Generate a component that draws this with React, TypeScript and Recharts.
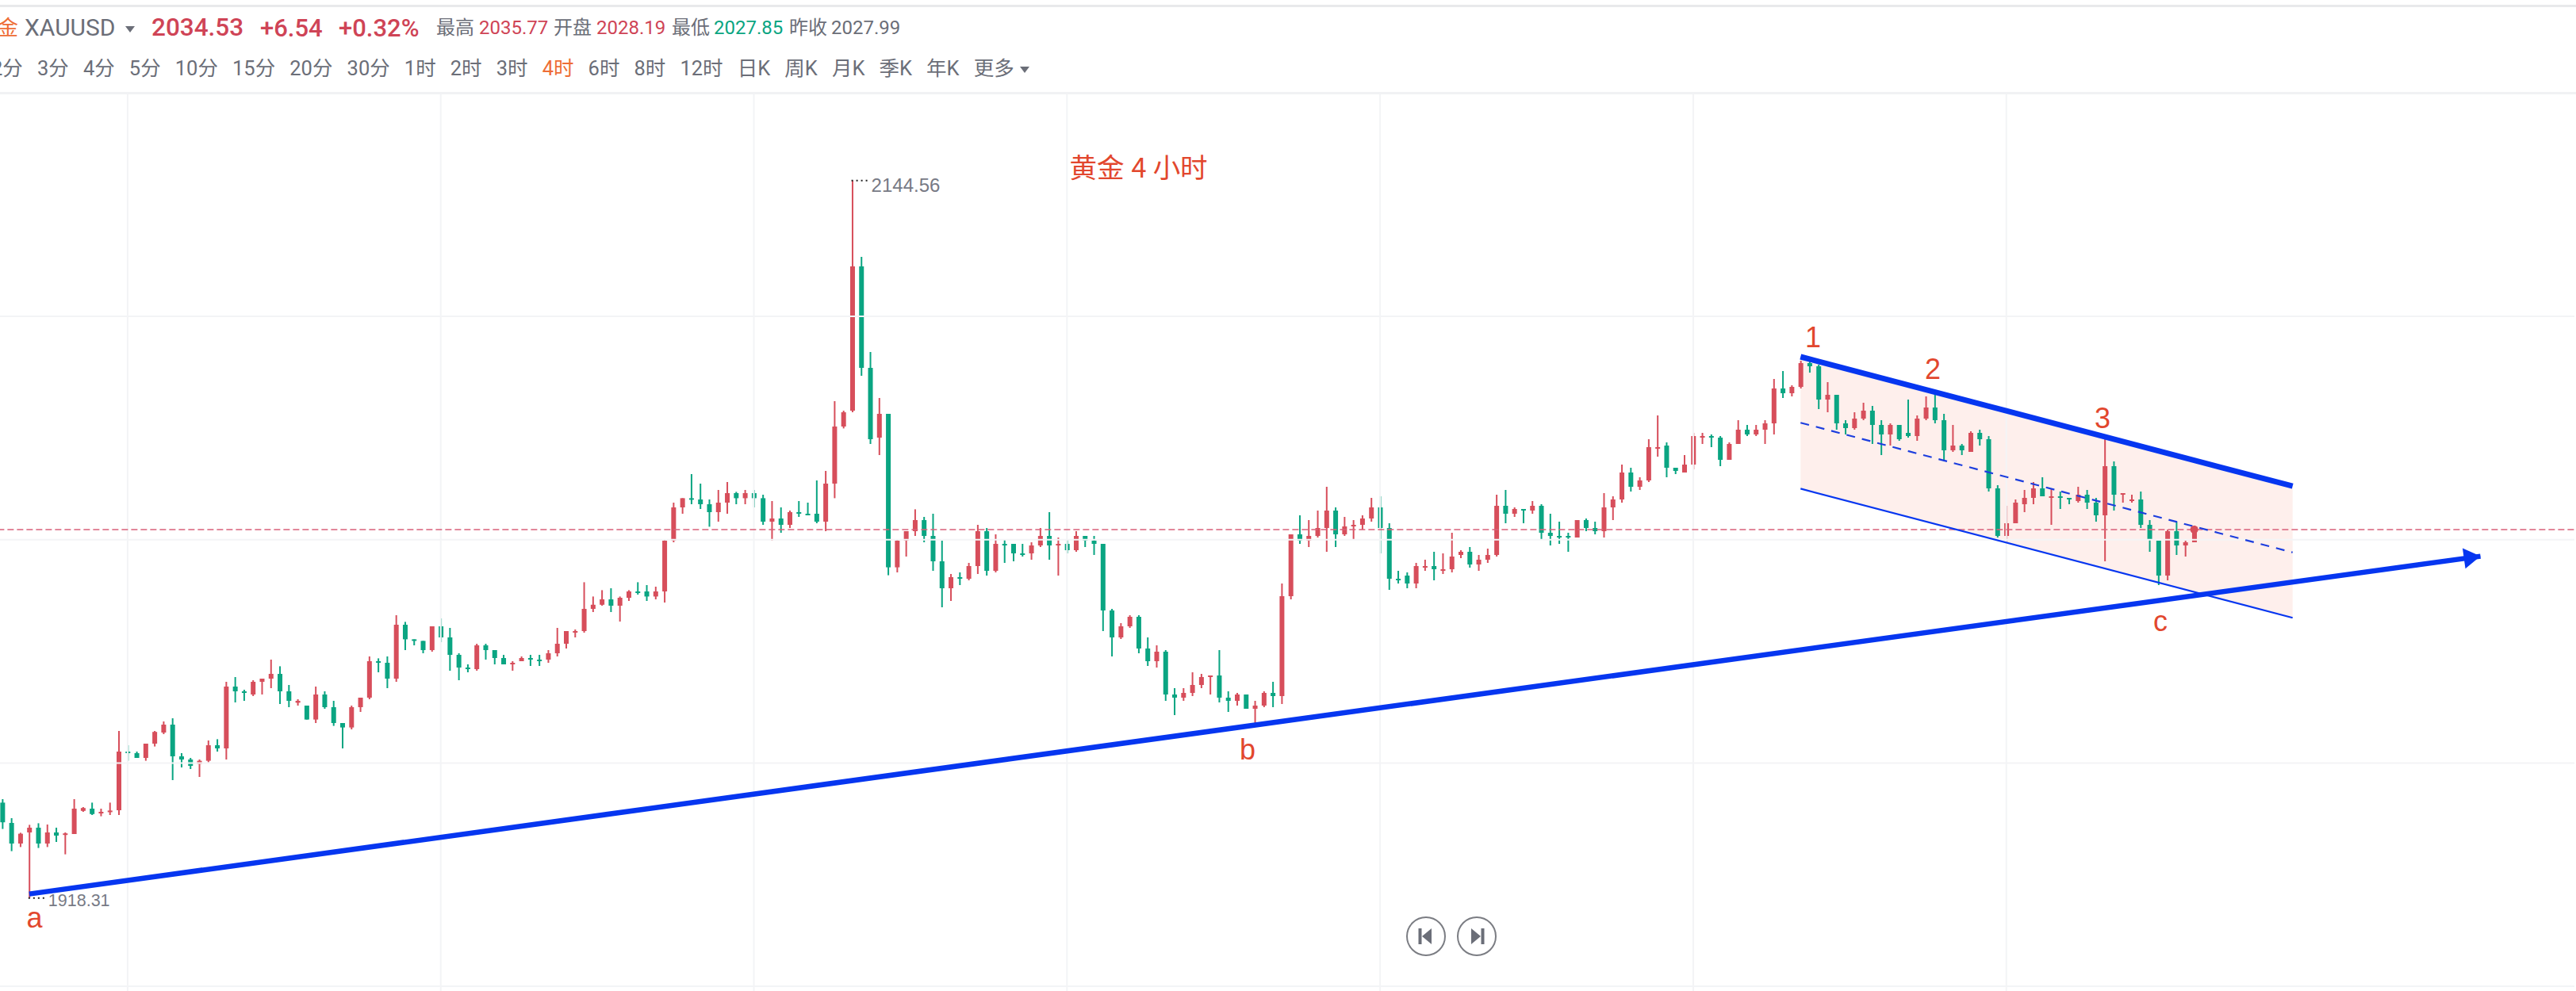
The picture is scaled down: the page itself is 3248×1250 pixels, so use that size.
import React from "react";
import { ComposedChart, Bar, Line, Area, XAxis, YAxis, ReferenceLine, ReferenceDot } from "recharts";

const opens = [
1948.4,1942.0,1935.5,1939.0,1940.5,1935.5,1939.0,1938.3,1938.5,1945.8,
1946.5,1945.1,1945.5,1946.0,1964.5,1964.0,1962.5,1967.0,1970.5,1973.0,
1963.0,1962.0,1960.6,1961.6,1966.5,1965.5,1985.0,1983.5,1982.5,1986.5,
1987.5,1989.0,1983.5,1979.9,1979.0,1974.6,1982.5,1978.5,1973.5,1972.1,
1978.5,1981.5,1993.0,1992.5,1987.5,2004.5,1999.9,1999.4,1996.5,2004.0,
2000.5,1995.0,1991.0,1990.5,1998.0,1996.5,1994.0,1992.0,1993.0,1994.0,
1993.5,1993.5,1995.5,1998.5,2002.0,2002.5,2009.5,2010.8,2012.5,2010.5,
2013.0,2015.0,2015.0,2013.4,2015.0,2031.0,2041.5,2044.4,2044.0,2042.5,
2040.0,2043.0,2046.0,2044.4,2046.0,2044.4,2037.0,2038.0,2036.0,2040.0,
2039.5,2039.5,2037.0,2049.0,2067.0,2072.0,2117.5,2085.5,2063.5,2071.0,
2022.6,2031.0,2034.0,2037.5,2032.5,2024.5,2016.0,2019.5,2019.0,2023.0,
2034.0,2021.5,2030.0,2030.0,2027.0,2027.0,2029.5,2032.5,2029.5,2030.0,
2028.0,2032.5,2031.0,2030.0,2009.0,2000.5,2004.0,2007.0,1997.0,1993.0,
1996.0,1982.5,1981.5,1983.0,1985.5,1988.0,1988.5,1981.5,1980.5,1982.5,
1978.0,1979.0,1983.0,1982.0,2013.5,2033.0,2031.0,2032.5,2035.0,2040.5,
2033.0,2035.5,2036.0,2038.0,2041.5,2035.0,2019.0,2020.0,2017.5,2022.5,
2023.0,2021.5,2022.0,2026.5,2027.5,2023.5,2025.0,2026.5,2042.0,2039.5,
2041.0,2040.5,2042.0,2033.5,2032.5,2032.5,2032.0,2037.5,2035.0,2034.0,
2041.5,2044.0,2052.5,2048.0,2050.0,2060.0,2061.0,2054.0,2052.5,2055.0,
2063.5,2064.0,2063.5,2056.5,2061.5,2066.0,2064.5,2066.0,2068.0,2079.0,
2077.5,2079.5,2087.0,2086.0,2075.5,2077.0,2068.0,2066.5,2069.5,2072.0,
2067.5,2064.5,2067.5,2065.0,2064.0,2069.5,2073.0,2069.0,2059.5,2061.0,
2059.0,2065.0,2063.0,2047.5,2032.5,2036.5,2042.5,2044.5,2047.5,2044.5,
2045.0,2044.5,2043.5,2045.5,2043.0,2039.0,2054.5,2045.5,2043.5,2044.0,
2036.0,2031.0,2020.0,2034.0,2029.5,2030.5,
];

const closes = [
1942.2,1935.5,1938.6,1940.5,1935.5,1939.0,1938.0,1938.7,1946.5,1946.7,
1944.8,1945.5,1945.9,1964.5,1964.0,1962.5,1967.0,1970.7,1973.0,1963.0,
1962.0,1960.0,1961.6,1966.5,1965.5,1985.0,1983.5,1983.0,1986.5,1987.5,
1989.0,1983.5,1980.5,1980.5,1974.6,1982.5,1978.5,1973.5,1972.1,1978.5,
1981.5,1993.0,1992.5,1987.5,2004.5,1999.9,1999.4,1996.5,2004.0,2000.5,
1995.0,1991.0,1990.5,1998.0,1996.5,1994.0,1992.0,1992.5,1994.0,1993.5,
1993.0,1995.5,1998.5,2002.5,2002.5,2009.5,2010.8,2012.5,2010.5,2013.0,
2015.0,2014.5,2013.4,2015.0,2031.0,2041.5,2044.4,2044.0,2042.5,2040.0,
2043.0,2046.0,2044.4,2046.0,2044.4,2037.0,2038.0,2036.0,2040.0,2039.5,
2039.0,2037.0,2049.0,2067.0,2071.5,2117.5,2085.5,2063.0,2071.0,2022.6,
2031.0,2034.0,2037.5,2032.5,2024.5,2016.0,2019.5,2019.0,2023.0,2034.0,
2021.5,2030.0,2029.5,2027.0,2026.5,2029.5,2032.5,2029.5,2030.0,2028.0,
2032.5,2031.0,2030.0,2009.0,2000.5,2004.0,2007.0,1997.0,1993.0,1996.0,
1982.5,1981.5,1983.0,1985.5,1988.0,1988.5,1981.5,1980.5,1982.5,1978.0,
1979.0,1983.0,1982.0,2013.5,2033.0,2031.0,2032.5,2035.0,2040.5,2033.0,
2035.5,2036.0,2038.0,2041.5,2035.0,2019.0,2018.5,2017.5,2023.0,2023.0,
2022.0,2022.0,2026.0,2027.5,2023.5,2025.0,2026.5,2042.0,2039.5,2041.0,
2040.5,2042.0,2033.5,2032.5,2032.0,2032.0,2037.5,2035.0,2034.0,2041.5,
2044.0,2052.5,2048.0,2050.0,2060.5,2060.5,2054.0,2053.0,2055.0,2064.0,
2064.0,2063.5,2056.5,2061.5,2066.0,2064.5,2066.0,2068.0,2079.0,2077.5,
2079.5,2087.0,2086.0,2075.5,2077.0,2068.0,2066.5,2069.5,2072.0,2067.5,
2064.5,2067.5,2063.0,2064.0,2069.5,2073.0,2069.0,2059.5,2061.0,2059.5,
2065.0,2063.0,2047.5,2032.5,2036.5,2043.0,2044.5,2047.5,2045.0,2045.0,
2044.5,2044.0,2045.5,2043.0,2039.0,2054.5,2045.5,2046.0,2044.0,2036.0,
2031.5,2020.0,2034.0,2029.5,2030.5,2034.53,
];

const highs = [
1949.5,1943.5,1938.9,1941.4,1941.9,1941.5,1940.5,1939.0,1949.5,1947.0,
1948.4,1946.5,1948.4,1971.0,1966.5,1964.5,1967.0,1971.0,1974.0,1975.0,
1964.0,1962.5,1962.0,1968.0,1968.4,1986.5,1988.0,1984.0,1987.0,1987.5,
1993.5,1991.4,1985.5,1981.0,1979.0,1985.0,1983.5,1980.5,1973.5,1979.0,
1981.5,1994.5,1993.9,1994.5,2007.5,2005.4,1999.9,1999.4,2004.0,2006.5,
2003.5,1995.5,1992.0,1998.5,1998.5,1996.5,1995.0,1993.0,1994.5,1995.0,
1995.0,1996.5,2003.5,2002.5,2003.0,2017.9,2013.4,2015.4,2016.0,2013.4,
2015.4,2017.9,2017.0,2016.5,2031.4,2043.0,2044.4,2052.0,2049.0,2044.0,
2047.0,2049.5,2046.4,2047.0,2047.0,2045.5,2043.5,2041.5,2040.5,2043.5,
2043.0,2050.0,2053.0,2075.0,2072.0,2144.56,2120.5,2090.5,2076.0,2071.0,
2031.3,2034.0,2040.9,2038.5,2039.5,2031.0,2020.5,2021.0,2024.0,2036.0,
2035.0,2033.0,2031.5,2030.0,2030.0,2030.5,2035.0,2040.0,2032.0,2031.5,
2034.0,2032.5,2032.5,2030.0,2009.5,2005.0,2007.5,2007.5,2000.5,1998.0,
1996.5,1984.5,1984.5,1989.5,1989.0,1988.5,1996.5,1983.5,1983.0,1982.5,
1980.5,1983.5,1986.5,2017.5,2033.0,2039.0,2037.5,2040.5,2048.0,2041.5,
2038.5,2037.5,2039.0,2044.5,2045.0,2036.5,2021.5,2021.0,2024.0,2025.0,
2027.5,2027.0,2033.5,2028.0,2029.0,2026.5,2028.5,2045.5,2047.0,2041.5,
2041.0,2043.5,2042.5,2039.5,2037.0,2033.5,2037.5,2038.0,2037.0,2046.0,
2045.0,2055.0,2054.0,2051.0,2063.0,2070.5,2062.0,2054.0,2058.0,2065.0,
2065.0,2064.5,2064.0,2062.0,2069.0,2067.5,2067.5,2069.0,2082.0,2084.5,
2080.0,2087.75,2087.5,2086.5,2081.0,2077.0,2069.0,2071.5,2074.5,2073.5,
2069.0,2068.0,2067.5,2075.5,2070.5,2076.5,2077.5,2071.0,2067.5,2061.5,
2065.5,2066.0,2064.0,2048.5,2042.0,2044.0,2047.0,2049.5,2051.0,2047.5,
2046.5,2044.5,2048.0,2047.0,2044.5,2063.0,2056.0,2046.0,2045.5,2046.5,
2037.5,2031.0,2034.5,2037.0,2031.0,2035.77,
];

const lows = [
1940.1,1933.1,1934.4,1918.31,1934.1,1934.4,1936.0,1932.1,1938.5,1945.5,
1944.5,1944.1,1944.5,1944.5,1961.6,1962.5,1961.6,1966.1,1970.0,1955.5,
1959.5,1959.0,1956.5,1961.1,1964.5,1962.0,1980.0,1980.5,1982.0,1982.5,
1984.5,1979.5,1978.5,1979.0,1974.6,1973.5,1978.0,1972.6,1965.5,1971.5,
1977.0,1981.0,1989.5,1984.5,1986.5,1996.5,1998.0,1995.5,1996.0,1999.0,
1990.0,1987.0,1989.5,1990.0,1993.5,1992.0,1992.0,1990.0,1993.0,1991.5,
1991.5,1992.5,1994.5,1997.0,2000.5,2002.0,2008.5,2010.5,2008.5,2005.5,
2012.0,2014.0,2012.0,2012.5,2011.5,2030.5,2039.5,2042.5,2041.0,2035.4,
2037.0,2039.5,2042.5,2042.5,2041.5,2036.0,2031.0,2033.5,2035.0,2038.5,
2039.0,2036.5,2034.0,2044.4,2066.4,2071.5,2083.0,2061.5,2058.0,2020.1,
2021.0,2026.0,2032.5,2030.5,2021.5,2010.0,2012.0,2017.0,2018.5,2020.5,
2020.0,2021.0,2024.0,2024.5,2026.0,2025.0,2029.0,2025.0,2020.0,2027.0,
2027.5,2029.0,2026.5,2002.5,1994.5,2000.0,2003.5,1995.5,1991.5,1991.0,
1980.5,1976.0,1980.5,1982.0,1984.5,1982.5,1980.0,1977.0,1979.0,1978.0,
1973.5,1978.5,1978.5,1979.5,2012.5,2030.0,2029.0,2032.0,2027.5,2029.0,
2032.5,2031.5,2034.5,2037.0,2027.0,2015.5,2017.5,2016.0,2016.0,2021.5,
2018.5,2020.5,2021.0,2025.5,2022.5,2021.5,2024.0,2026.0,2036.5,2038.5,
2036.5,2039.5,2031.5,2029.5,2030.0,2027.5,2032.0,2034.0,2033.0,2032.0,
2037.5,2043.0,2046.5,2047.0,2049.5,2057.5,2051.0,2052.0,2052.5,2053.5,
2061.5,2060.5,2054.5,2056.5,2061.5,2064.0,2064.0,2061.5,2064.5,2076.0,
2076.5,2079.0,2084.0,2072.5,2071.5,2066.0,2064.5,2066.0,2069.0,2061.5,
2058.0,2061.0,2062.5,2063.5,2062.5,2069.0,2068.0,2056.0,2059.0,2058.0,
2059.0,2061.0,2046.5,2032.0,2030.5,2036.5,2040.0,2042.5,2045.0,2036.0,
2041.0,2042.5,2043.0,2041.0,2037.0,2024.5,2040.5,2043.0,2043.0,2035.0,
2027.5,2017.0,2018.5,2026.5,2026.0,2030.5,
];

const totalSlots = [288];
const gridIndices = [14, 49, 84, 119, 154, 189, 224];
const gridPrices = [2101.75, 2031.3, 1960.9, 1890.5];
const lastPriceLine = [2034.53];

const channelIndex = [201, 256];
const upperEdge = [2089.0, 2048.2];
const middleEdge = [2068.2, 2027.3];
const lowerEdge = [2047.4, 2006.7];
const trendIndex = [3, 277];
const trendValues = [1919.6, 2026.1];

const waveLabels = ["1", "2", "3", "a", "b", "c"];
const waveIndex = [202, 216, 235, 3, 139, 241];
const wavePrice = [2095.25, 2085.25, 2069.75, 1912.25, 1965.25, 2005.75];
const waveNudge = [4.4, -2.5, -2.8, 6.8, 2, 2.5];

const extremeLabels = ["2144.56", "1918.31"];
const extremeIndex = [95, 3];
const extremePrice = [2144.56, 1918.31];

const quoteParts = ["XAUUSD", "2034.53", "+6.54", "+0.32%"];
const statNames = ["最高", "开盘", "最低", "昨收"];
const statValues = ["2035.77", "2028.19", "2027.85", "2027.99"];
const periods = ["2分","3分","4分","5分","10分","15分","20分","30分","1时","2时","3时","4时","6时","8时","12时","日K","周K","月K","季K","年K","更多"];

const RED = "#d74e5b";
const GREEN = "#0aa582";
const BLUE = "#0636f0";
const GRID = "#f3f4f6";
const LABEL_RED = "#e2472e";
const GRAY = "#6b6e78";

const rows = Array.from({ length: totalSlots[0] }, (_, i) => {
  const row: any = { i };
  if (i < opens.length) {
    row.open = opens[i];
    row.close = closes[i];
    row.high = highs[i];
    row.low = lows[i];
    row.range = [lows[i], highs[i]];
  }
  const c = channelIndex.indexOf(i);
  if (c >= 0) {
    row.upper = upperEdge[c];
    row.middle = middleEdge[c];
    row.lower = lowerEdge[c];
    row.band = [lowerEdge[c], upperEdge[c]];
  }
  const t = trendIndex.indexOf(i);
  if (t >= 0) row.trend = trendValues[t];
  return row;
});

function Candle(props: any) {
  const { x, y, width, height, payload } = props;
  if (!payload || payload.high == null || !isFinite(y) || !isFinite(height)) return null;
  const perUnit = height / (payload.high - payload.low);
  const top = y + (payload.high - Math.max(payload.open, payload.close)) * perUnit;
  const bottom = y + (payload.high - Math.min(payload.open, payload.close)) * perUnit;
  const fill = payload.close >= payload.open ? RED : GREEN;
  return (
    <g>
      <rect x={x + width / 2 - 1} y={y} width={2} height={height} fill={fill} />
      <rect x={x} y={top} width={width} height={Math.max(bottom - top, 2)} fill={fill} />
    </g>
  );
}

function ArrowDot(props: any) {
  const { cx, cy, index } = props;
  if (index !== trendIndex[1]) return <g key={index} />;
  return <polygon key={index} points="0,0 -21,-13 -21,13" fill={BLUE} transform={`translate(${cx} ${cy}) rotate(-7.9)`} />;
}

const sans = "Roboto, 'Noto Sans CJK SC', sans-serif";

function HeaderText({ left, size, color, weight, children }: any) {
  return (
    <span style={{ position: "absolute", left, top: 35, transform: "translateY(-50%)", fontSize: size, color, fontWeight: weight ?? 400, whiteSpace: "nowrap", lineHeight: 1 }}>
      {children}
    </span>
  );
}

function NavButton({ left, flip }: any) {
  return (
    <svg width={52} height={52} style={{ position: "absolute", left, top: 1155 }}>
      <circle cx={26} cy={26} r={24} fill="#fff" stroke="#7b7d83" strokeWidth={2} />
      <g transform={flip ? "translate(52 0) scale(-1 1)" : undefined} fill={GRAY}>
        <rect x={16.5} y={16} width={4} height={20} />
        <polygon points="21,26 33,16 33,36" />
      </g>
    </svg>
  );
}

export default function App() {
  return (
    <div style={{ position: "absolute", left: 0, top: 0, width: 3248, height: 1250, overflow: "hidden", background: "#fff", fontFamily: sans }}>
      <ComposedChart width={3248} height={1250} data={rows} margin={{ left: -2.64, right: 2, top: 0, bottom: 0 }}>
        <XAxis dataKey="i" type="category" hide interval={0} />
        <YAxis type="number" hide domain={[1889, 2201.5]} allowDataOverflow />
        {gridIndices.map((g) => (
          <ReferenceLine key={`gx${g}`} x={g} stroke={GRID} strokeWidth={2} />
        ))}
        {gridPrices.map((g) => (
          <ReferenceLine key={`gy${g}`} y={g} stroke={GRID} strokeWidth={2} />
        ))}
        <Area dataKey="band" type="linear" connectNulls stroke="none" fill="#f4502a" fillOpacity={0.09} dot={false} activeDot={false} isAnimationActive={false} />
        <ReferenceLine y={lastPriceLine[0]} stroke="#d9607a" strokeWidth={1.5} strokeDasharray="8 4" />
        <Bar dataKey="range" barSize={6} shape={Candle} isAnimationActive={false} />
        <Line dataKey="lower" type="linear" connectNulls stroke={BLUE} strokeWidth={2.2} dot={false} activeDot={false} isAnimationActive={false} />
        <Line dataKey="middle" type="linear" connectNulls stroke="#1c3ede" strokeWidth={2.2} strokeDasharray="11 9" dot={false} activeDot={false} isAnimationActive={false} />
        <Line dataKey="upper" type="linear" connectNulls stroke={BLUE} strokeWidth={7} dot={false} activeDot={false} isAnimationActive={false} />
        <Line dataKey="trend" type="linear" connectNulls stroke={BLUE} strokeWidth={6.5} dot={ArrowDot} activeDot={false} isAnimationActive={false} />
        <ReferenceDot x={opens.length - 1} y={closes[closes.length - 1]} r={5} fill={RED} stroke="none" />
        {waveLabels.map((label, k) => (
          <ReferenceDot
            key={label}
            x={waveIndex[k]}
            y={wavePrice[k]}
            shape={(p: any) => (
              <text x={p.cx + waveNudge[k]} y={p.cy} dy="0.36em" textAnchor="middle" fontSize={36} fontFamily="'Liberation Sans', sans-serif" fill={LABEL_RED}>
                {label}
              </text>
            )}
          />
        ))}
        <ReferenceDot
          x={127}
          y={2148.5}
          shape={(p: any) => (
            <text x={p.cx} y={p.cy} dy="0.36em" textAnchor="middle" fontSize={34.5} fontFamily="'Noto Sans CJK SC', sans-serif" fill={LABEL_RED}>
              黄金<tspan dx={9}>4</tspan><tspan dx={8}>小时</tspan>
            </text>
          )}
        />
        {extremeLabels.map((label, k) => (
          <ReferenceDot
            key={label}
            x={extremeIndex[k]}
            y={extremePrice[k]}
            shape={(p: any) => (
              <g>
                <line x1={p.cx - 1} x2={p.cx + 20} y1={p.cy} y2={p.cy} stroke="#222" strokeWidth={2} strokeDasharray="2 4" />
                <text x={p.cx + 24} y={p.cy + (k === 0 ? 6 : 2)} dy="0.36em" fontSize={k === 0 ? 24 : 21.5} fontFamily="'Liberation Sans', sans-serif" fill="#777a85">
                  {label}
                </text>
              </g>
            )}
          />
        ))}
      </ComposedChart>

      <div style={{ position: "absolute", left: 0, top: 0, width: 3248, height: 116, background: "#fff" }}>
        <div style={{ position: "absolute", left: 0, top: 6, width: 3248, height: 3, background: "#e8e9eb" }} />
        <HeaderText left={-3} size={26} color="#ee6d36">金</HeaderText>
        <HeaderText left={31} size={30} color={GRAY}>{quoteParts[0]}</HeaderText>
        <svg width={12} height={8} style={{ position: "absolute", left: 158, top: 33 }}><polygon points="0,0 12,0 6,8" fill={GRAY} /></svg>
        <HeaderText left={191} size={31.5} color="#cf4456" weight={500}>{quoteParts[1]}</HeaderText>
        <HeaderText left={328} size={31} color="#cf4456" weight={500}>{quoteParts[2]}</HeaderText>
        <HeaderText left={427} size={31} color="#cf4456" weight={500}>{quoteParts[3]}</HeaderText>
        <HeaderText left={550} size={24} color={GRAY}>{statNames[0]}</HeaderText>
        <HeaderText left={604} size={24} color="#cf4456">{statValues[0]}</HeaderText>
        <HeaderText left={698} size={24} color={GRAY}>{statNames[1]}</HeaderText>
        <HeaderText left={752} size={24} color="#cf4456">{statValues[1]}</HeaderText>
        <HeaderText left={847} size={24} color={GRAY}>{statNames[2]}</HeaderText>
        <HeaderText left={900} size={24} color="#0aa582">{statValues[2]}</HeaderText>
        <HeaderText left={995} size={24} color={GRAY}>{statNames[3]}</HeaderText>
        <HeaderText left={1048} size={24} color={GRAY}>{statValues[3]}</HeaderText>
        <div style={{ position: "absolute", left: -11, top: 87, transform: "translateY(-50%)", display: "flex", gap: 18.1, fontSize: 25.5, lineHeight: 1, whiteSpace: "nowrap" }}>
          {periods.map((p) => (
            <span key={p} style={{ color: p === "4时" ? "#ee6d36" : GRAY }}>{p}</span>
          ))}
        </div>
        <svg width={12} height={8} style={{ position: "absolute", left: 1286, top: 84 }}><polygon points="0,0 12,0 6,8" fill={GRAY} /></svg>
      </div>
      <div style={{ position: "absolute", left: 0, top: 116, width: 3248, height: 3, background: "#f1f2f4" }} />
      <NavButton left={1772} />
      <NavButton left={1836} flip />
    </div>
  );
}
